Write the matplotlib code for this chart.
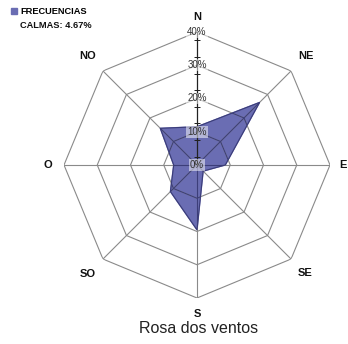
import numpy as np
import matplotlib
matplotlib.use('Agg')
import matplotlib.pyplot as plt

# Wind rose data (frequency %)
directions = ['N', 'NE', 'E', 'SE', 'S', 'SO', 'O', 'NO']
frequencies = [11.5, 26.6, 8.5, 2.6, 19.5, 11.3, 7.0, 15.6]
calm = 4.67
rings = [10, 20, 30, 40]
ring_labels = ['0%', '10%', '20%', '30%', '40%']
label_radius = [44.5, 46.3, 44, 46, 44.8, 46.3, 44.8, 46.5]

plt.rcParams['font.family'] = ['Liberation Sans', 'DejaVu Sans']

fig = plt.figure(figsize=(3.48, 3.44), dpi=100)
ax = fig.add_axes([0.1839, 0.1337, 0.7644, 0.7733], projection='polar')
ax.set_theta_zero_location('N')
ax.set_theta_direction(-1)
ax.set_ylim(0, 40)
ax.grid(False)
ax.spines['polar'].set_visible(False)
ax.set_xticks([])
ax.set_yticks([])
ax.patch.set_alpha(0)

angles = np.deg2rad(np.arange(0, 360, 45))
closed = np.append(angles, angles[0])

# filled series
vals = np.append(frequencies, frequencies[0])
poly = ax.fill(closed, vals, color='#6a6db3', zorder=1, label='FRECUENCIAS')[0]
ax.plot(closed, vals, color='#3a3c78', lw=0.8, zorder=3)

# octagon grid (grey outside the series, dark where it crosses the fill)
for colour, clip in (('#8a8a8a', None), ('#3c3e7a', poly)):
    lines = []
    for r in rings:
        lines += ax.plot(closed, [r] * len(closed), color=colour, lw=0.8, zorder=2)
    for a in angles[1:]:
        lines += ax.plot([a, a], [0, 40], color=colour, lw=0.8, zorder=2)
    if clip is not None:
        for ln in lines:
            ln.set_clip_path(clip)
ax.plot([0, 0], [0, 40], color='#222222', lw=0.9, zorder=4)
ax.plot([0] * 8, [2.5 + 5 * i for i in range(8)], ls='none', marker='_',
        ms=4, mew=0.7, color='#222222', zorder=4)

# radial labels
for i, lab in enumerate(ring_labels):
    ax.text(0, i * 10, lab, ha='center', va='center', fontsize=7, color='#333333',
            zorder=5, bbox=dict(boxstyle='square,pad=0.1', fc='white', ec='none', alpha=0.5))

# direction labels
for a, d, r in zip(angles, directions, label_radius):
    ax.text(a, r, d, ha='center', va='center', fontsize=8, fontweight='bold',
            color='#111111', clip_on=False)

fig.legend(handles=[poly], loc='upper left', bbox_to_anchor=(0.026, 0.985),
           frameon=False, handlelength=0.7, handleheight=0.7,
           handletextpad=0.3, borderpad=0.2, borderaxespad=0,
           prop={'weight': 'bold', 'size': 6.7})
fig.text(20 / 348, 1 - 26 / 344, 'CALMAS: %.2f%%' % calm, fontsize=6.7, fontweight='bold',
         ha='left', va='center', color='#111111')

fig.text(199 / 348, 1 - 328.5 / 344, 'Rosa dos ventos', ha='center', va='center',
         fontsize=11.5, color='#222222')

fig.savefig('out.png', dpi=100)
